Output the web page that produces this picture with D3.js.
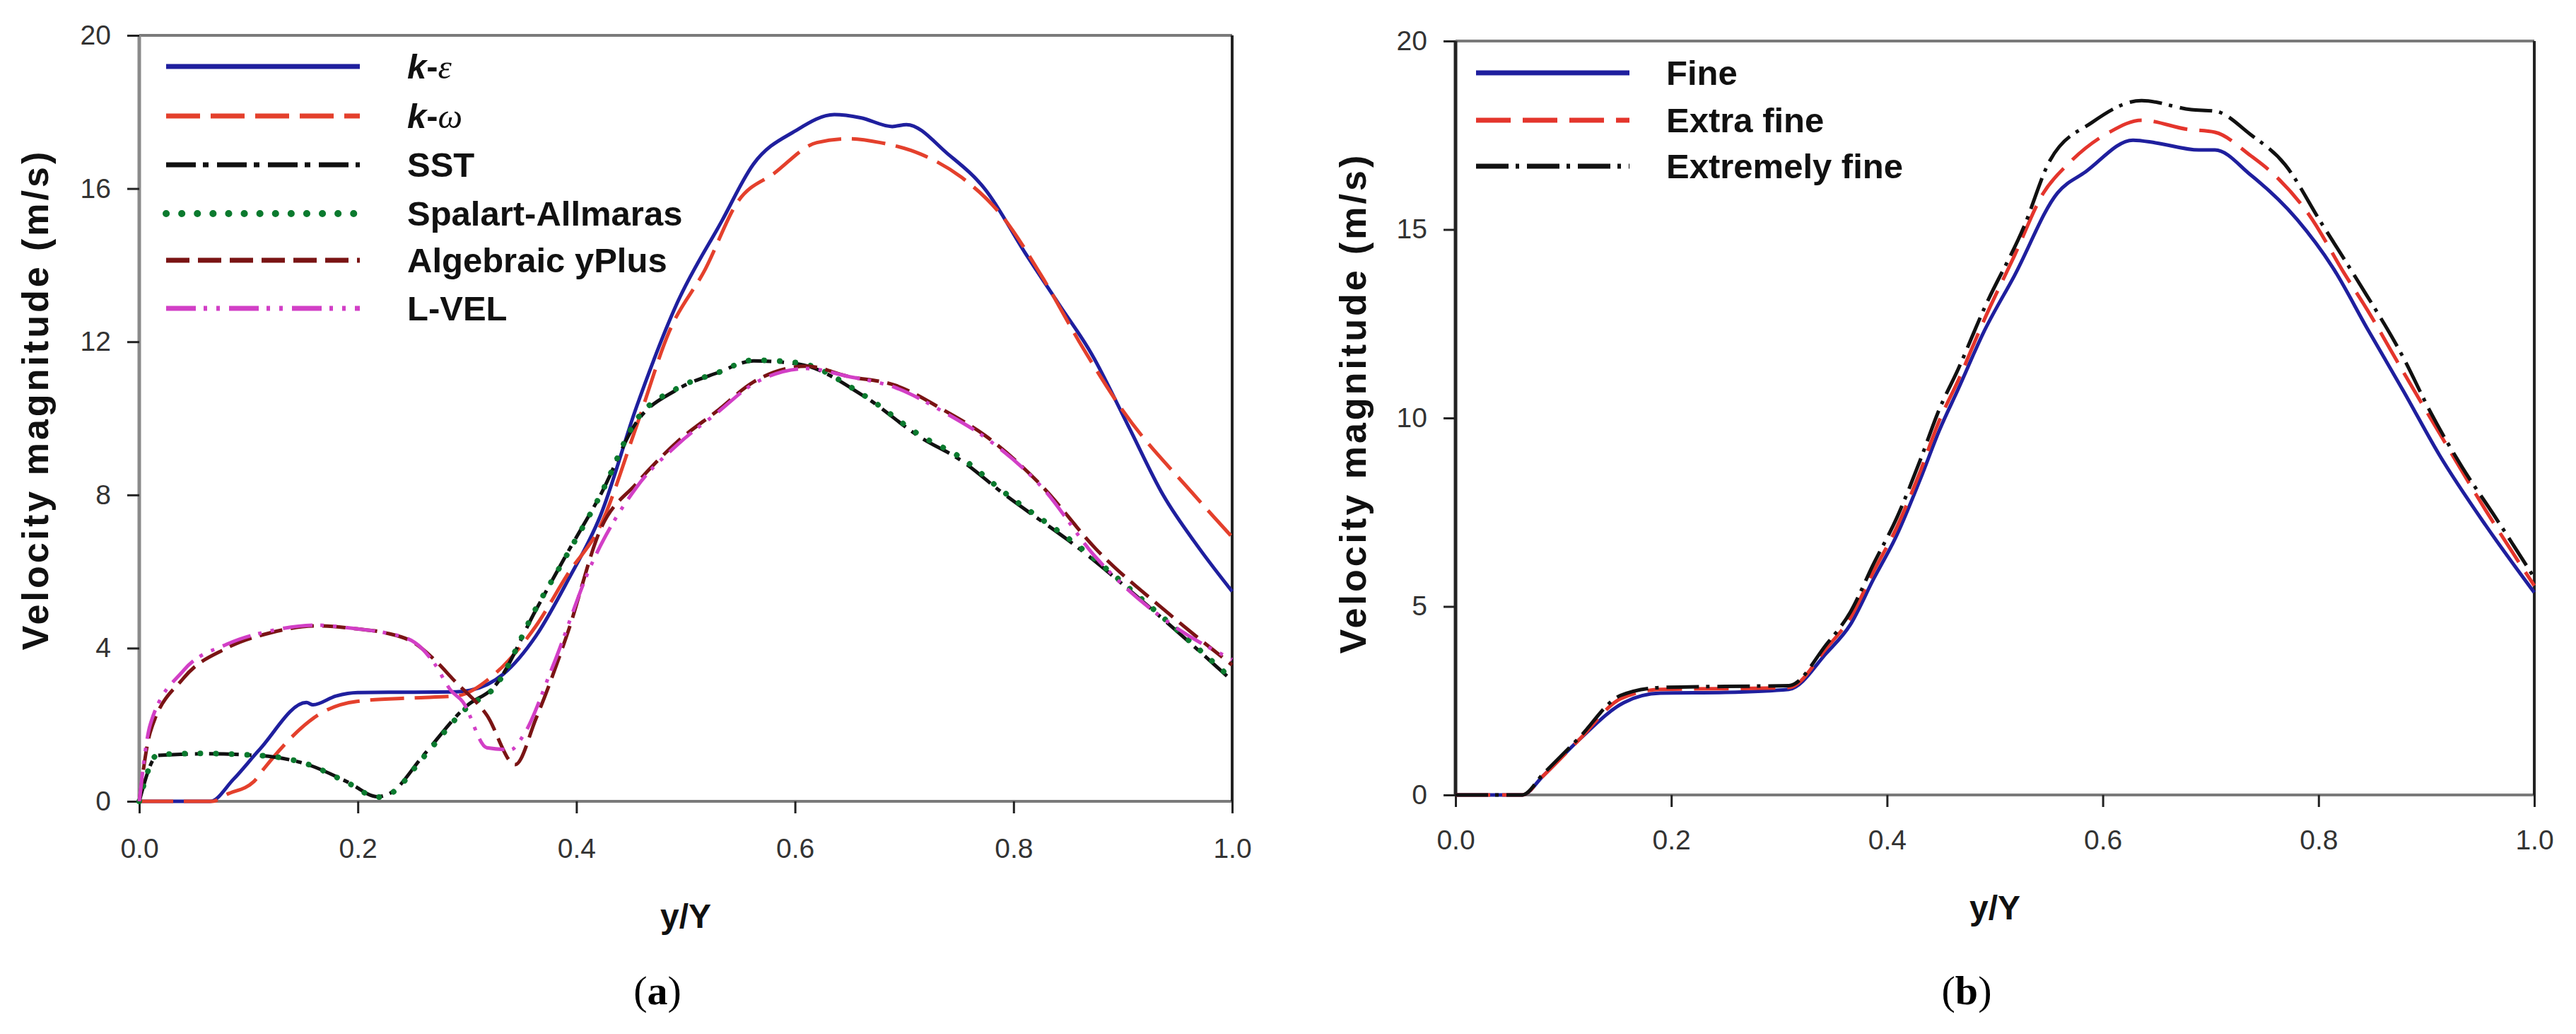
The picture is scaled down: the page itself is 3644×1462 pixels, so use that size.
<!doctype html>
<html>
<head>
<meta charset="utf-8">
<title>Velocity magnitude profiles</title>
<script src="https://d3js.org/d3.v7.min.js"></script>
<style>
  body { margin: 0; background: #fff; }
  svg text { font-family: "Liberation Sans", Arial, sans-serif; }
  .tick text { fill: #333; font-size: 39px; }
  .tick line { stroke: #222; stroke-width: 3px; }
  .domain { display: none; }
</style>
</head>
<body>
<script>

// ---- data ----
// panel (a): turbulence models
var xKE  = [0, 0.065, 0.086, 0.11, 0.153, 0.159, 0.18, 0.2, 0.25, 0.29, 0.303, 0.333, 0.363, 0.392, 0.422, 0.455, 0.492, 0.533, 0.562, 0.6, 0.636, 0.66, 0.689, 0.702, 0.74, 0.774, 0.811, 0.841, 0.871, 0.905, 0.937, 0.97, 1.0];
var vKE  = [0, 0, 0.57, 1.35, 2.58, 2.52, 2.75, 2.84, 2.85, 2.86, 2.9, 3.32, 4.32, 5.76, 7.46, 10.3, 13.0, 15.15, 16.64, 17.5, 17.93, 17.85, 17.62, 17.67, 16.9, 15.98, 14.3, 13.0, 11.7, 9.8, 7.99, 6.6, 5.48];

var xKW  = [0, 0.067, 0.08, 0.105, 0.114, 0.17, 0.199, 0.25, 0.29, 0.325, 0.363, 0.392, 0.422, 0.455, 0.485, 0.518, 0.5475, 0.581, 0.62, 0.65, 0.678, 0.715, 0.752, 0.789, 0.826, 0.863, 0.9, 0.963, 1.0];
var vKW  = [0, 0, 0.18, 0.52, 0.85, 2.36, 2.61, 2.7, 2.75, 3.32, 4.58, 5.93, 7.2, 9.8, 12.27, 13.9, 15.65, 16.4, 17.2, 17.3, 17.2, 16.9, 16.3, 15.3, 13.7, 11.86, 10.2, 8.07, 6.9];

var xSA  = [0, 0.017, 0.06, 0.0925, 0.125, 0.153, 0.191, 0.218, 0.23, 0.26, 0.3, 0.325, 0.363, 0.392, 0.422, 0.455, 0.492, 0.53, 0.562, 0.603, 0.662, 0.715, 0.752, 0.79, 0.86, 0.927, 1.0];
var vSA  = [0, 1.22, 1.25, 1.22, 1.16, 0.98, 0.48, 0.11, 0.2, 1.15, 2.45, 2.97, 5.04, 6.47, 8.0, 9.96, 10.78, 11.2, 11.52, 11.45, 10.62, 9.55, 8.97, 8.1, 6.65, 5.04, 3.19];

var xSST = [0, 0.017, 0.06, 0.0925, 0.125, 0.153, 0.191, 0.218, 0.23, 0.26, 0.3, 0.325, 0.363, 0.392, 0.422, 0.455, 0.492, 0.53, 0.562, 0.603, 0.662, 0.715, 0.752, 0.79, 0.86, 0.927, 1.0];
var vSST = [0, 1.2, 1.24, 1.22, 1.15, 0.97, 0.5, 0.12, 0.22, 1.2, 2.5, 3.0, 5.0, 6.5, 8.0, 9.9, 10.75, 11.2, 11.5, 11.42, 10.6, 9.5, 8.9, 8.05, 6.6, 5.0, 3.15];

var xAY  = [0, 0.01, 0.04, 0.08, 0.12, 0.162, 0.2, 0.225, 0.252, 0.27, 0.288, 0.318, 0.344, 0.363, 0.392, 0.422, 0.455, 0.492, 0.529, 0.562, 0.611, 0.648, 0.692, 0.737, 0.774, 0.826, 0.875, 0.942, 1.0];
var vAY  = [0, 1.8, 3.2, 4.0, 4.4, 4.58, 4.5, 4.4, 4.13, 3.7, 3.16, 2.25, 0.96, 2.16, 4.4, 7.1, 8.3, 9.38, 10.2, 10.95, 11.36, 11.1, 10.86, 10.2, 9.55, 8.23, 6.6, 4.9, 3.56];

var xLV  = [0, 0.01, 0.04, 0.08, 0.12, 0.162, 0.2, 0.225, 0.252, 0.27, 0.285, 0.296, 0.318, 0.34, 0.351, 0.378, 0.414, 0.455, 0.492, 0.529, 0.562, 0.611, 0.648, 0.692, 0.737, 0.774, 0.826, 0.875, 0.942, 1.0];
var vLV  = [0, 2.0, 3.4, 4.1, 4.45, 4.6, 4.5, 4.4, 4.15, 3.6, 2.9, 2.6, 1.4, 1.35, 1.7, 3.5, 6.2, 8.2, 9.3, 10.15, 10.9, 11.3, 11.1, 10.8, 10.15, 9.5, 8.2, 6.38, 4.67, 3.7];

// panel (b): mesh study
var xFine = [0, 0.062, 0.081, 0.114, 0.156, 0.19, 0.25, 0.309, 0.344, 0.366, 0.387, 0.409, 0.431, 0.448, 0.466, 0.49, 0.518, 0.558, 0.584, 0.628, 0.649, 0.689, 0.704, 0.737, 0.78, 0.813, 0.846, 0.879, 0.912, 0.955, 1.0];
var vFine = [0, 0, 0.5, 1.45, 2.45, 2.7, 2.72, 2.8, 3.77, 4.52, 5.7, 6.89, 8.39, 9.64, 10.77, 12.3, 13.77, 15.97, 16.53, 17.37, 17.3, 17.11, 17.11, 16.45, 15.27, 14.0, 12.33, 10.7, 9.02, 7.15, 5.37];

var xXF  = [0, 0.062, 0.081, 0.114, 0.153, 0.19, 0.25, 0.309, 0.344, 0.366, 0.387, 0.409, 0.431, 0.448, 0.466, 0.49, 0.518, 0.545, 0.569, 0.606, 0.636, 0.678, 0.704, 0.737, 0.759, 0.791, 0.824, 0.846, 0.879, 0.912, 0.955, 1.0];
var vXF  = [0, 0, 0.5, 1.45, 2.55, 2.8, 2.82, 2.85, 3.9, 4.7, 5.9, 7.1, 8.6, 9.9, 11.0, 12.6, 14.3, 15.97, 16.77, 17.58, 17.9, 17.66, 17.58, 16.96, 16.45, 15.4, 13.83, 12.83, 11.2, 9.6, 7.55, 5.55];

var xEF  = [0, 0.062, 0.081, 0.114, 0.153, 0.19, 0.25, 0.309, 0.344, 0.366, 0.387, 0.409, 0.431, 0.448, 0.466, 0.49, 0.527, 0.551, 0.59, 0.636, 0.682, 0.704, 0.737, 0.769, 0.802, 0.835, 0.879, 0.903, 0.933, 0.962, 1.0];
var vEF  = [0, 0, 0.55, 1.5, 2.64, 2.85, 2.88, 2.9, 4.0, 4.85, 6.1, 7.35, 8.9, 10.2, 11.3, 12.9, 15.08, 16.83, 17.84, 18.42, 18.18, 18.14, 17.52, 16.72, 15.2, 13.7, 11.58, 10.2, 8.7, 7.45, 5.76];

var xTicks  = [0, 0.2, 0.4, 0.6, 0.8, 1.0];
var yTicksA = [0, 4, 8, 12, 16, 20];
var yTicksB = [0, 5, 10, 15, 20];

var W = 3644, H = 1462;

var svg = d3.select("body").append("svg")
    .attr("width", W)
    .attr("height", H);

svg.append("rect").attr("width", W).attr("height", H).attr("fill", "#fff");

// pair up the x and y arrays for d3.line
function zipPts(xs, vs) {
  return xs.map(function(x, i) { return { x: x, v: vs[i] }; });
}

function panel(p) {
  var x = d3.scaleLinear().domain([0, 1]).range([p.left, p.right]);
  var y = d3.scaleLinear().domain([0, 20]).range([p.bottom, p.top]);

  var g = svg.append("g");

  // frame, edges coloured like the original
  g.append("line").attr("x1", p.left).attr("x2", p.right).attr("y1", p.top).attr("y2", p.top)
    .attr("stroke", "#7a7a7a").attr("stroke-width", 4);
  g.append("line").attr("x1", p.left).attr("x2", p.right).attr("y1", p.bottom).attr("y2", p.bottom)
    .attr("stroke", "#7a7a7a").attr("stroke-width", 4);
  g.append("line").attr("x1", p.left).attr("x2", p.left).attr("y1", p.top).attr("y2", p.bottom)
    .attr("stroke", p.leftColor).attr("stroke-width", 5);
  g.append("line").attr("x1", p.right).attr("x2", p.right).attr("y1", p.top).attr("y2", p.bottom)
    .attr("stroke", "#222").attr("stroke-width", 4);

  g.append("g")
    .attr("transform", "translate(0," + p.bottom + ")")
    .call(d3.axisBottom(x).tickValues(xTicks).tickFormat(d3.format(".1f")).tickSize(17).tickPadding(p.xPad));

  g.append("g")
    .attr("transform", "translate(" + p.left + ",0)")
    .call(d3.axisLeft(y).tickValues(p.yTicks).tickSize(17).tickPadding(23));

  var line = d3.line()
    .x(function(d) { return x(d.x); })
    .y(function(d) { return y(d.v); })
    .curve(d3.curveMonotoneX);

  p.series.forEach(function(s) {
    g.append("path")
      .attr("d", line(zipPts(s.xs, s.vs)))
      .attr("fill", "none")
      .attr("stroke", s.color)
      .attr("stroke-width", s.width || 5)
      .attr("stroke-dasharray", s.dash)
      .attr("stroke-linecap", s.cap || "butt")
      .attr("stroke-linejoin", "round");
  });

  // legend
  p.series.forEach(function(s, i) {
    var ly = p.legY[i];
    g.append("line")
      .attr("x1", p.legX0).attr("x2", p.legX1)
      .attr("y1", ly).attr("y2", ly)
      .attr("stroke", s.color)
      .attr("stroke-width", (s.width || 5) + 2)
      .attr("stroke-dasharray", s.dash)
      .attr("stroke-linecap", s.cap || "butt");
    var t = g.append("text")
      .attr("x", p.legText).attr("y", ly + 17)
      .attr("font-size", 49).attr("font-weight", "bold").attr("fill", "#111");
    if (s.greek) {
      t.append("tspan").attr("font-style", "italic").text("k");
      t.append("tspan").text("-");
      t.append("tspan").attr("font-style", "italic").attr("font-weight", "normal")
        .style("font-family", "'Liberation Serif', serif").text(s.greek);
    } else {
      t.text(s.name);
    }
  });

  // axis titles
  var cx = (p.left + p.right) / 2;
  g.append("text")
    .attr("transform", "translate(" + p.yTitleX + "," + p.yTitleY + ") rotate(-90)")
    .attr("text-anchor", "middle")
    .attr("font-size", 52).attr("font-weight", "bold").attr("letter-spacing", 4).attr("fill", "#111")
    .text("Velocity magnitude (m/s)");
  g.append("text")
    .attr("x", cx).attr("y", p.xTitleY)
    .attr("text-anchor", "middle")
    .attr("font-size", 48).attr("font-weight", "bold").attr("fill", "#111")
    .text("y/Y");

  var lab = g.append("text")
    .attr("x", cx + p.tagShift).attr("y", 1420)
    .attr("text-anchor", "middle")
    .attr("font-size", 58).attr("fill", "#000")
    .style("font-family", "'Liberation Serif', serif");
  lab.append("tspan").text("(");
  lab.append("tspan").attr("font-weight", "bold").text(p.tag);
  lab.append("tspan").text(")");
}

panel({
  left: 197, right: 1743, top: 50, bottom: 1133,
  leftColor: "#8a8a8a", yTicks: yTicksA, xPad: 35,
  legX0: 235, legX1: 509, legText: 576,
  legY: [94, 164, 233, 302, 368, 436],
  yTitleX: 68, yTitleY: 565, xTitleY: 1312, tag: "a", tagShift: -40,
  series: [
    { name: "k-ε", greek: "ε", xs: xKE, vs: vKE, color: "#1f1f9e" },
    { name: "k-ω", greek: "ω", xs: xKW, vs: vKW, color: "#e4402c", dash: "48 15" },
    { name: "SST", xs: xSST, vs: vSST, color: "#111", dash: "42 10 8 12" },
    { name: "Spalart-Allmaras", xs: xSA, vs: vSA, color: "#0b7a2e", dash: "0.1 22", cap: "round", width: 8 },
    { name: "Algebraic yPlus", xs: xAY, vs: vAY, color: "#7a1414", dash: "33 12" },
    { name: "L-VEL", xs: xLV, vs: vLV, color: "#d23fc6", dash: "42 11 5 13 5 13" }
  ]
});

panel({
  left: 2059, right: 3585, top: 58, bottom: 1124,
  leftColor: "#222", yTicks: yTicksB, xPad: 32,
  legX0: 2088, legX1: 2305, legText: 2357,
  legY: [103, 170, 235],
  yTitleX: 1932, yTitleY: 570, xTitleY: 1300, tag: "b", tagShift: -40,
  series: [
    { name: "Fine", xs: xFine, vs: vFine, color: "#1f1f9e" },
    { name: "Extra fine", xs: xXF, vs: vXF, color: "#e4352c", dash: "49 17" },
    { name: "Extremely fine", xs: xEF, vs: vEF, color: "#111", dash: "46 10 5 11" }
  ]
});

</script>
</body>
</html>
